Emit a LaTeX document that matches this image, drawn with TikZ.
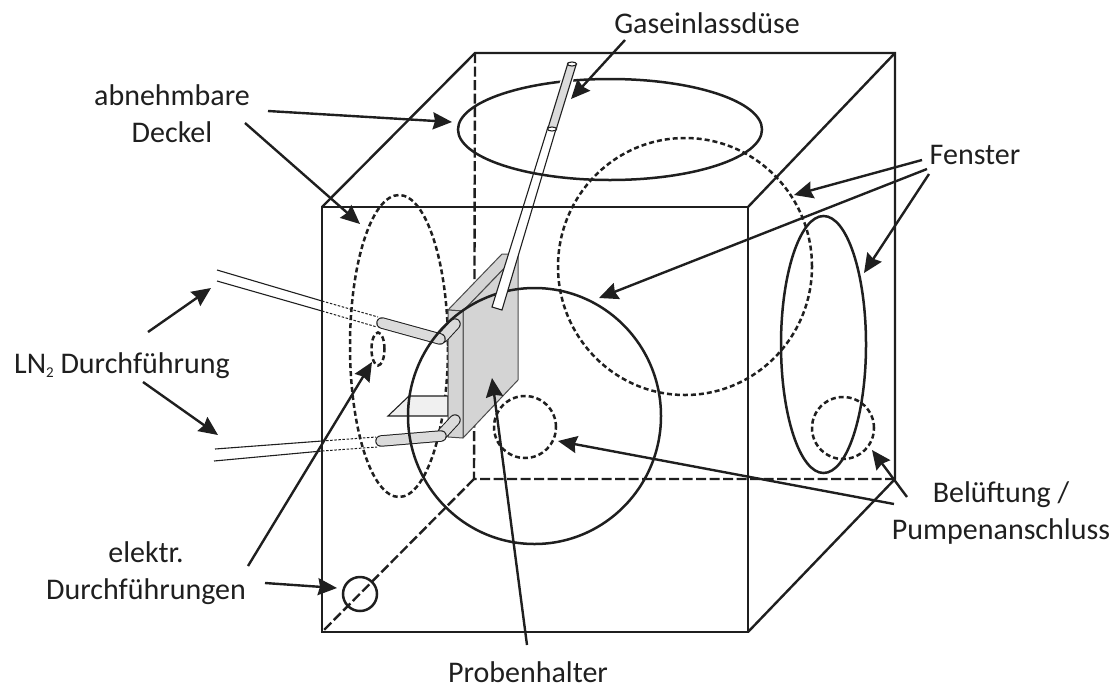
\documentclass[tikz,border=0pt]{standalone}
\usepackage{fontspec}
\setmainfont{Carlito}
\usetikzlibrary{arrows.meta,shapes.geometric}
\definecolor{ink}{gray}{0.12}
\definecolor{plate}{gray}{0.83}
\definecolor{tube}{gray}{0.86}
\definecolor{shelf}{gray}{0.94}
\newcommand{\subtwo}{\raisebox{-4pt}{\fontsize{15}{15}\selectfont 2}}
\tikzset{
  x=1pt,y=-1pt,
  line/.style={draw=ink,line width=2.4pt},
  hid/.style={draw=ink,line width=2.4pt,dash pattern=on 10pt off 3.5pt},
  circ/.style={ellipse,inner sep=0pt,draw=ink,line width=2.5pt},
  dcirc/.style={ellipse,inner sep=0pt,draw=ink,line width=2.5pt,dash pattern=on 5pt off 3pt},
  arr/.style={draw=ink,line width=2.4pt,-{Stealth[length=19pt,width=17pt,inset=2pt]}},
  thin line/.style={draw=ink,line width=1.1pt},
  dots/.style={draw=ink,line width=1pt,dash pattern=on 2.5pt off 1.6pt},
  lab/.style={font=\fontsize{30}{36.5}\selectfont,text=ink,inner sep=0pt,align=center,anchor=base},
  facet/.style={draw=ink!80,line width=1pt,line join=round},
}
\begin{document}
\begin{tikzpicture}
\useasboundingbox (0,0) rectangle (1116,686);
% cube corners
\coordinate (fa) at (322,207); \coordinate (fb) at (748,207);
\coordinate (fc) at (748,632); \coordinate (fd) at (322,632);
\coordinate (ba) at (475,53);  \coordinate (bb) at (895,53);
\coordinate (bc) at (895,479); \coordinate (bd) at (474,479);
% hidden edges
\draw[hid] (ba) -- (bd) -- (bc);
\draw[hid] (bd) -- (fd);
% dashed windows
\node[dcirc,minimum width=98pt,minimum height=302pt] (lid) at (399,346) {};
\node[dcirc,minimum width=254pt,minimum height=257pt] (win) at (685,266.5) {};
\node[dcirc,minimum width=13pt,minimum height=33pt] (feed) at (378,349) {};
\node[dcirc,minimum width=62pt,minimum height=62pt] (vent) at (525,427) {};
\node[dcirc,minimum width=62pt,minimum height=62pt] (pump) at (843,428) {};
% shelf and holder
\draw[thin line,fill=shelf] (388,416) -- (409,396) -- (448,396) -- (448,416) -- cycle;
\draw[facet,fill=plate] (448,310) -- (502,254) -- (518,254) -- (463,311) -- cycle;
\draw[facet,fill=plate] (463,311) -- (518,254) -- (518,380) -- (463,438) -- cycle;
\draw[facet,fill=plate] (448,310) -- (463,311) -- (463,438) -- (448,437) -- cycle;
% LN2 lines
\coordinate (ua) at (217,270); \coordinate (ub) at (322,301); \coordinate (uc) at (378,317);
\coordinate (ud) at (217,281); \coordinate (ue) at (322,311); \coordinate (uf) at (377,327);
\coordinate (la) at (215,449); \coordinate (lb) at (322,441); \coordinate (lc) at (376,437);
\coordinate (ld) at (214,461); \coordinate (le) at (322,451); \coordinate (lf) at (377,447);
\draw[thin line] (ua) -- (ub); \draw[thin line] (ud) -- (ue);
\draw[thin line] (la) -- (lb); \draw[thin line] (ld) -- (le);
\draw[dots] (ub) -- (uc); \draw[dots] (ue) -- (uf);
\draw[dots] (lb) -- (lc); \draw[dots] (le) -- (lf);
% tubes
\draw[ink,line width=11.5pt,line cap=round] (443,337) -- (455,324);
\draw[tube,line width=9.5pt,line cap=round] (443,337) -- (455,324);
\draw[ink,line width=11.5pt,line cap=round] (382,323) -- (440,339);
\draw[tube,line width=9.5pt,line cap=round] (382,323) -- (440,339);
\draw[ink,line width=11.5pt,line cap=round] (443,433) -- (455,420);
\draw[tube,line width=9.5pt,line cap=round] (443,433) -- (455,420);
\draw[ink,line width=11.5pt,line cap=round] (381,441) -- (441,436);
\draw[tube,line width=9.5pt,line cap=round] (381,441) -- (441,436);
% solid shapes behind the gas tube
\node[circ,minimum width=253pt,minimum height=256pt] (big) at (534.5,416) {};
% white gas tube
\draw[thin line,fill=white] (548,127) -- (556,129) -- (502,310) -- (492,307) -- cycle;
\node[circ,minimum width=304pt,minimum height=101pt] (top) at (610,129.5) {};
\node[circ,minimum width=85pt,minimum height=257pt] (side) at (823.5,344.5) {};
\node[circ,minimum width=34pt,minimum height=34pt] (port) at (360,594) {};
% grey nozzle
\draw[white,line width=12pt] (571,68) -- (552,125);
\draw[thin line,fill=tube] (568,63) -- (576,65) -- (556,130) -- (548,128) -- cycle;
\draw[thin line,fill=white] (572,64) ellipse (4.5pt and 2pt);
\draw[thin line,fill=white] (552,129) ellipse (4.5pt and 2pt);
% cube front
\draw[line] (fa) -- (fb) -- (fc) -- (fd) -- cycle;
\draw[line] (fa) -- (ba) -- (bb) -- (bc) -- (fc);
\draw[line] (fb) -- (bb);
% labels
\node[lab] (gas) at (707,33) {Gaseinlassdüse};
\node[lab] (deck) at (172,142) {abnehmbare\\Deckel};
\node[lab] (fen) at (975,164) {Fenster};
\node[lab] (ln) at (122,373) {LN\subtwo{} Durchführung};
\node[lab] (ele) at (146,599) {elektr.\\Durchführungen};
\node[lab] (pro) at (528,682) {Probenhalter};
\node[lab] (bel) at (1001,539) {Belüftung /\\Pumpenanschluss};
% arrow ends
\coordinate (g0) at (625,40);  \coordinate (g1) at (571,99);
\coordinate (d0) at (268,111); \coordinate (d1) at (452,122);
\coordinate (d2) at (245,123); \coordinate (d3) at (360,224);
\coordinate (f0) at (922,160); \coordinate (f1) at (794,195);
\coordinate (f2) at (927,169); \coordinate (f3) at (599,298);
\coordinate (f4) at (929,174); \coordinate (f5) at (864,273);
\coordinate (n0) at (148,332); \coordinate (n1) at (211,288);
\coordinate (n2) at (143,382); \coordinate (n3) at (218,435);
\coordinate (e0) at (248,566); \coordinate (e1) at (372,362);
\coordinate (e2) at (265,583); \coordinate (e3) at (337,588);
\coordinate (p0) at (527,645); \coordinate (p1) at (492,378);
\coordinate (b0) at (907,497); \coordinate (b1) at (872,450);
\coordinate (b2) at (894,504); \coordinate (b3) at (558,441);
\foreach \s/\t in {g0/g1,d0/d1,d2/d3,f0/f1,f2/f3,f4/f5,n0/n1,n2/n3,e0/e1,e2/e3,p0/p1,b0/b1,b2/b3}
  \draw[arr] (\s) -- (\t);
\end{tikzpicture}
\end{document}
